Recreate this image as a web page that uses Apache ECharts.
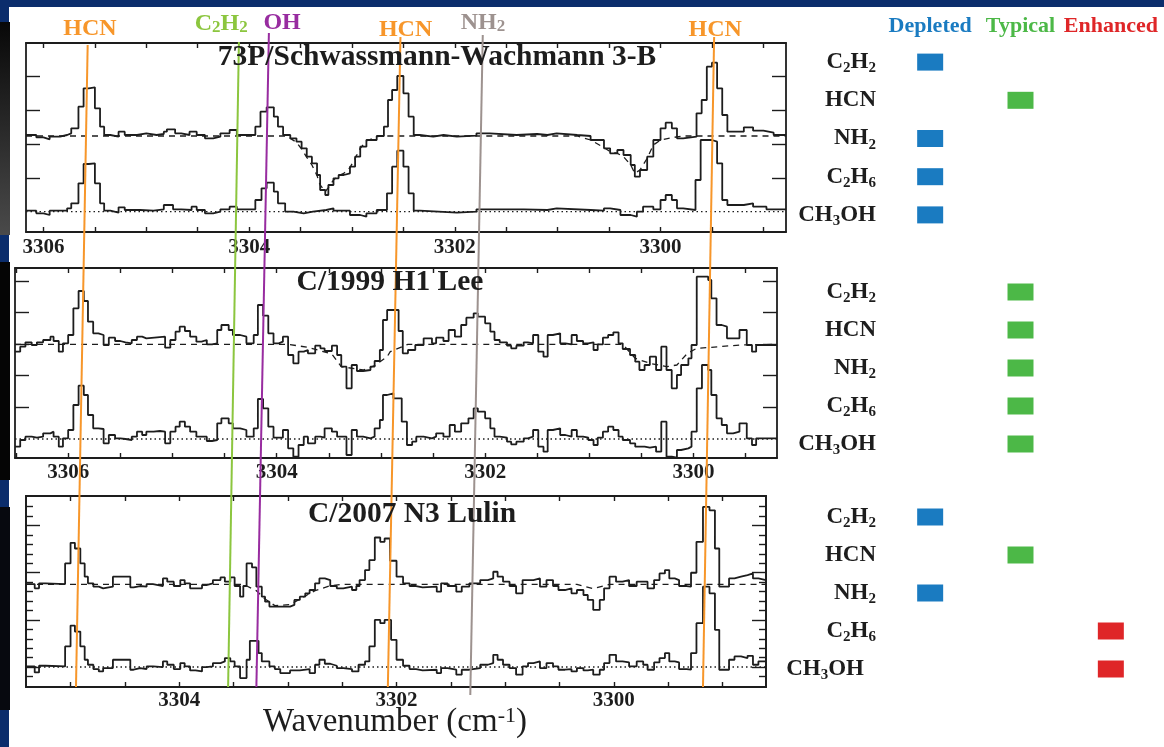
<!DOCTYPE html>
<html><head><meta charset="utf-8">
<script src="https://cdn.jsdelivr.net/npm/echarts@6/dist/echarts.min.js"></script>
<style>html,body{margin:0;padding:0;background:#fff}#c{width:1164px;height:747px}</style>
</head><body><div id="c"></div>
<script>
// ---------- DATA ----------
const panelTitles = ['73P/Schwassmann-Wachmann 3-B', 'C/1999 H1 Lee', 'C/2007 N3 Lulin'];
const xLabelsP1 = [3300, 3302, 3304, 3306];
const xLabelsP2 = [3300, 3302, 3304, 3306];
const xLabelsP3 = [3300, 3302, 3304];
const xTicksP1 = [3299, 3299.5, 3300, 3300.5, 3301, 3301.5, 3302, 3302.5, 3303, 3303.5, 3304, 3304.5, 3305, 3305.5, 3306];
const xTicksP2 = [3299.5, 3300, 3300.5, 3301, 3301.5, 3302, 3302.5, 3303, 3303.5, 3304, 3304.5, 3305, 3305.5, 3306, 3306.5];
const xTicksP3 = [3299, 3299.5, 3300, 3300.5, 3301, 3301.5, 3302, 3302.5, 3303, 3303.5, 3304, 3304.5, 3305];
const xRangeP1 = [3298.78, 3306.17];
const xRangeP2 = [3299.20, 3306.51];
const xRangeP3 = [3298.60, 3305.41];
const yRangeP1 = [-0.61, 5.06];
const yRangeP2 = [-0.57, 5.13];
const yRangeP3 = [-0.60, 5.15];
const yTicksP1 = [1.01, 2.03, 3.04, 4.06];
const yTicksP2 = [0.95, 1.90, 2.84, 3.80, 4.74];
const yTicksP3Major = [0, 1.42, 2.84, 4.26];
const yTicksP3Minor = [-0.284, 0.284, 0.568, 0.852, 1.136, 1.704, 1.988, 2.272, 2.556, 3.124, 3.408, 3.692, 3.976, 4.544, 4.828];

// observed spectra, fitted models, residuals: [wavenumber (cm-1), relative flux]
const p1Obs = [[3306.17,2.30],[3306.07,2.23],[3306.00,2.17],[3305.94,2.25],[3305.84,2.30],[3305.77,2.35],[3305.73,2.50],[3305.66,3.15],[3305.61,3.70],[3305.56,3.73],[3305.50,3.10],[3305.45,2.55],[3305.41,2.30],[3305.35,2.25],[3305.27,2.40],[3305.21,2.30],[3305.09,2.35],[3305.00,2.30],[3304.90,2.33],[3304.83,2.40],[3304.80,2.47],[3304.72,2.35],[3304.66,2.30],[3304.58,2.40],[3304.51,2.30],[3304.43,2.20],[3304.35,2.25],[3304.28,2.35],[3304.19,2.45],[3304.12,2.30],[3303.94,2.55],[3303.89,3.00],[3303.83,3.13],[3303.76,2.85],[3303.72,2.55],[3303.67,2.30],[3303.60,2.20],[3303.54,2.10],[3303.49,1.90],[3303.44,1.65],[3303.39,1.45],[3303.34,1.10],[3303.31,0.65],[3303.26,0.50],[3303.23,0.80],[3303.18,1.00],[3303.13,1.10],[3303.08,1.15],[3303.02,1.35],[3302.97,1.65],[3302.92,1.95],[3302.86,2.15],[3302.76,2.27],[3302.69,2.55],[3302.65,3.35],[3302.61,3.65],[3302.56,4.07],[3302.50,3.55],[3302.45,2.85],[3302.40,2.30],[3302.34,2.25],[3302.21,2.30],[3302.11,2.25],[3301.98,2.28],[3301.79,2.35],[3301.66,2.30],[3301.40,2.33],[3301.20,2.30],[3301.10,2.35],[3301.01,2.30],[3300.81,2.27],[3300.68,2.15],[3300.55,1.90],[3300.49,1.75],[3300.42,1.85],[3300.36,1.70],[3300.29,1.40],[3300.25,1.05],[3300.20,1.25],[3300.13,1.65],[3300.07,2.15],[3300.00,2.50],[3299.95,2.67],[3299.89,2.50],[3299.84,2.20],[3299.78,2.25],[3299.65,2.95],[3299.60,3.35],[3299.55,4.35],[3299.50,4.47],[3299.45,3.70],[3299.40,2.90],[3299.35,2.40],[3299.19,2.53],[3299.10,2.43],[3299.00,2.37],[3298.90,2.30],[3298.78,2.30]];
const p1Model = [[3306.17,2.27],[3303.65,2.27],[3303.60,2.20],[3303.54,2.08],[3303.49,1.88],[3303.44,1.63],[3303.39,1.40],[3303.34,1.08],[3303.31,0.80],[3303.26,0.60],[3303.23,0.72],[3303.18,0.95],[3303.13,1.08],[3303.08,1.15],[3303.02,1.32],[3302.97,1.60],[3302.92,1.90],[3302.86,2.12],[3302.76,2.25],[3302.69,2.27],[3300.81,2.27],[3300.68,2.15],[3300.55,1.92],[3300.49,1.80],[3300.42,1.75],[3300.36,1.65],[3300.29,1.40],[3300.25,1.15],[3300.20,1.25],[3300.13,1.60],[3300.07,2.00],[3300.00,2.15],[3299.89,2.22],[3299.78,2.27],[3298.78,2.27]];
const p1Res = [[3306.17,0.03],[3306.07,-0.05],[3306.00,-0.10],[3305.94,0.03],[3305.77,0.10],[3305.73,0.25],[3305.66,0.85],[3305.61,1.43],[3305.56,1.45],[3305.50,0.85],[3305.45,0.25],[3305.41,0.03],[3305.35,-0.03],[3305.27,0.13],[3305.21,0.05],[3305.06,0.03],[3304.93,0.07],[3304.83,0.20],[3304.74,0.07],[3304.66,0.05],[3304.56,0.15],[3304.51,0.05],[3304.43,-0.05],[3304.35,0.00],[3304.28,0.07],[3304.19,0.15],[3304.12,0.07],[3303.94,0.35],[3303.88,0.70],[3303.83,0.87],[3303.76,0.60],[3303.72,0.25],[3303.65,0.00],[3303.57,-0.05],[3303.47,0.00],[3303.38,0.05],[3303.25,0.10],[3303.18,0.03],[3303.02,-0.10],[3302.92,-0.15],[3302.86,-0.05],[3302.76,0.05],[3302.66,0.55],[3302.61,1.35],[3302.56,1.83],[3302.50,1.35],[3302.45,0.55],[3302.40,0.03],[3302.34,-0.03],[3301.98,0.00],[3301.79,0.07],[3301.33,0.05],[3301.10,0.10],[3301.01,0.05],[3300.68,0.03],[3300.55,0.10],[3300.49,0.05],[3300.39,-0.10],[3300.29,-0.15],[3300.23,0.00],[3300.17,0.15],[3300.07,0.07],[3300.00,0.35],[3299.95,0.50],[3299.89,0.35],[3299.84,0.10],[3299.78,0.05],[3299.66,0.95],[3299.61,2.15],[3299.50,2.10],[3299.45,1.45],[3299.40,0.35],[3299.35,0.20],[3299.19,0.25],[3299.10,0.15],[3298.97,0.07],[3298.78,0.07]];

const p2Obs = [[3306.51,2.62],[3306.46,2.77],[3306.41,2.90],[3306.35,2.82],[3306.30,2.90],[3306.24,2.97],[3306.17,3.07],[3306.14,2.94],[3306.09,2.62],[3306.05,2.87],[3306.00,3.12],[3305.95,3.92],[3305.90,4.44],[3305.85,4.14],[3305.81,3.52],[3305.76,3.17],[3305.71,3.12],[3305.66,2.82],[3305.61,3.04],[3305.55,2.94],[3305.50,2.90],[3305.45,2.87],[3305.39,2.97],[3305.34,3.07],[3305.29,3.02],[3305.25,3.07],[3305.07,2.74],[3305.02,2.97],[3304.97,3.22],[3304.93,3.37],[3304.88,3.24],[3304.83,3.07],[3304.77,2.92],[3304.72,2.97],[3304.67,2.84],[3304.62,2.87],[3304.57,3.27],[3304.53,3.42],[3304.46,3.27],[3304.42,3.12],[3304.35,3.07],[3304.29,2.87],[3304.22,3.12],[3304.18,4.02],[3304.13,3.70],[3304.08,3.17],[3304.03,2.87],[3303.98,2.92],[3303.94,3.07],[3303.89,2.52],[3303.84,2.27],[3303.79,2.62],[3303.74,2.67],[3303.70,2.57],[3303.63,2.80],[3303.58,2.72],[3303.54,2.64],[3303.47,2.80],[3303.42,2.52],[3303.38,2.17],[3303.33,1.52],[3303.28,2.22],[3303.23,2.04],[3303.17,2.07],[3303.10,2.17],[3303.06,2.34],[3303.01,2.67],[3302.98,3.57],[3302.94,3.87],[3302.83,3.24],[3302.79,2.57],[3302.74,2.67],[3302.67,2.82],[3302.59,3.02],[3302.51,2.87],[3302.47,3.04],[3302.40,2.94],[3302.35,3.27],[3302.29,3.07],[3302.23,3.42],[3302.18,3.64],[3302.11,3.77],[3302.07,3.67],[3302.00,3.47],[3301.95,3.22],[3301.91,2.97],[3301.86,2.90],[3301.79,2.80],[3301.75,2.72],[3301.70,2.80],[3301.63,2.90],[3301.59,2.87],[3301.54,3.12],[3301.49,2.62],[3301.44,2.47],[3301.40,3.12],[3301.35,3.17],[3301.28,2.87],[3301.23,2.84],[3301.17,3.12],[3301.12,2.94],[3301.06,2.87],[3301.01,2.90],[3300.96,2.67],[3300.92,2.84],[3300.87,3.04],[3300.82,3.12],[3300.77,3.20],[3300.72,2.87],[3300.68,2.70],[3300.61,2.52],[3300.56,2.32],[3300.52,2.07],[3300.47,2.22],[3300.42,2.47],[3300.36,2.07],[3300.31,2.77],[3300.26,2.07],[3300.21,1.52],[3300.16,1.92],[3300.12,2.22],[3300.05,2.42],[3300.02,2.82],[3299.97,4.87],[3299.86,4.77],[3299.83,4.22],[3299.78,3.42],[3299.73,3.37],[3299.68,3.02],[3299.56,3.27],[3299.49,2.82],[3299.44,2.62],[3299.40,2.82],[3299.20,2.82]];
const p2Model = [[3306.51,2.84],[3303.89,2.84],[3303.70,2.75],[3303.47,2.55],[3303.38,2.17],[3303.17,2.07],[3303.06,2.20],[3302.94,2.47],[3302.91,2.62],[3302.74,2.84],[3300.68,2.84],[3300.56,2.42],[3300.42,2.27],[3300.26,2.17],[3300.16,2.22],[3300.06,2.57],[3299.97,2.72],[3299.75,2.77],[3299.56,2.82],[3299.20,2.84]];
const p2Res = [[3306.51,-0.23],[3306.46,-0.03],[3306.41,0.07],[3306.35,0.04],[3306.30,0.07],[3306.24,0.17],[3306.17,0.22],[3306.14,0.07],[3306.09,-0.23],[3306.05,0.02],[3306.00,0.27],[3305.95,1.02],[3305.90,1.60],[3305.85,1.32],[3305.81,0.72],[3305.76,0.32],[3305.71,0.30],[3305.66,-0.13],[3305.61,0.12],[3305.55,0.02],[3305.50,0.00],[3305.45,-0.03],[3305.39,0.07],[3305.34,0.22],[3305.29,0.12],[3305.25,0.22],[3305.18,0.24],[3305.12,0.22],[3305.07,-0.13],[3305.02,0.22],[3304.97,0.37],[3304.93,0.52],[3304.88,0.37],[3304.83,0.22],[3304.77,0.07],[3304.67,-0.06],[3304.62,-0.03],[3304.57,0.47],[3304.53,0.62],[3304.46,0.47],[3304.42,0.32],[3304.35,0.27],[3304.29,0.07],[3304.22,0.32],[3304.18,1.20],[3304.13,0.92],[3304.08,0.37],[3304.03,0.04],[3303.94,0.27],[3303.89,-0.28],[3303.84,-0.53],[3303.79,-0.18],[3303.74,0.07],[3303.70,-0.13],[3303.63,0.07],[3303.58,0.04],[3303.54,0.32],[3303.47,0.22],[3303.42,0.07],[3303.33,-0.48],[3303.28,0.27],[3303.23,0.07],[3303.17,0.02],[3303.10,0.07],[3303.06,0.32],[3303.01,0.57],[3302.98,1.32],[3302.94,1.37],[3302.88,1.22],[3302.80,0.52],[3302.75,-0.18],[3302.70,-0.08],[3302.66,0.07],[3302.59,0.02],[3302.51,0.07],[3302.47,0.17],[3302.40,0.07],[3302.34,0.42],[3302.29,0.22],[3302.23,0.47],[3302.16,0.62],[3302.11,0.92],[3302.07,0.82],[3302.00,0.62],[3301.95,0.32],[3301.91,0.07],[3301.86,0.04],[3301.79,-0.08],[3301.75,-0.16],[3301.70,-0.08],[3301.63,0.02],[3301.59,0.07],[3301.54,0.27],[3301.49,-0.23],[3301.44,-0.38],[3301.40,0.27],[3301.35,0.32],[3301.28,0.12],[3301.23,0.07],[3301.17,0.27],[3301.12,0.07],[3301.06,0.04],[3301.01,-0.03],[3300.96,-0.18],[3300.92,0.04],[3300.87,0.22],[3300.82,0.37],[3300.77,0.27],[3300.72,0.07],[3300.68,-0.03],[3300.61,-0.13],[3300.56,-0.23],[3300.47,-0.26],[3300.42,-0.23],[3300.36,-0.38],[3300.31,0.52],[3300.26,-0.53],[3300.21,-0.56],[3300.16,-0.33],[3300.12,-0.28],[3300.05,-0.23],[3300.02,0.22],[3299.97,1.52],[3299.92,2.22],[3299.86,2.07],[3299.83,1.32],[3299.78,0.62],[3299.73,0.42],[3299.68,0.17],[3299.62,0.22],[3299.56,0.47],[3299.49,0.02],[3299.44,-0.18],[3299.40,0.02],[3299.20,0.02]];

const p3Obs = [[3305.41,2.50],[3305.33,2.37],[3305.29,2.52],[3305.23,2.50],[3305.05,3.12],[3305.00,3.74],[3304.96,3.57],[3304.91,3.12],[3304.87,2.72],[3304.84,2.52],[3304.79,2.42],[3304.74,2.37],[3304.70,2.42],[3304.61,2.72],[3304.45,2.40],[3304.42,2.44],[3304.36,2.42],[3304.30,2.50],[3304.24,2.44],[3304.15,2.67],[3304.11,2.57],[3304.05,2.44],[3303.99,2.62],[3303.95,2.52],[3303.90,2.37],[3303.79,2.47],[3303.75,2.52],[3303.69,2.62],[3303.62,2.70],[3303.58,2.57],[3303.53,2.70],[3303.49,2.44],[3303.44,2.12],[3303.41,2.44],[3303.38,3.12],[3303.33,3.00],[3303.29,2.42],[3303.24,2.12],[3303.21,1.97],[3303.17,1.82],[3302.98,1.87],[3302.94,2.02],[3302.89,2.12],[3302.84,2.22],[3302.80,2.32],[3302.75,2.52],[3302.71,2.67],[3302.66,2.62],[3302.61,2.44],[3302.55,2.37],[3302.49,2.42],[3302.41,2.32],[3302.37,2.44],[3302.34,2.62],[3302.29,2.92],[3302.25,3.22],[3302.20,3.90],[3302.15,3.77],[3302.11,3.87],[3302.06,3.20],[3302.00,2.72],[3301.94,2.52],[3301.88,2.44],[3301.82,2.40],[3301.76,2.42],[3301.63,2.27],[3301.59,2.52],[3301.53,2.44],[3301.45,2.27],[3301.40,2.42],[3301.33,2.52],[3301.23,2.62],[3301.16,2.67],[3301.11,2.87],[3301.07,2.72],[3301.02,2.57],[3300.96,2.44],[3300.90,2.22],[3300.84,2.62],[3300.74,2.67],[3300.68,2.42],[3300.62,2.62],[3300.56,2.44],[3300.51,2.32],[3300.45,2.37],[3300.39,2.22],[3300.34,2.32],[3300.28,2.17],[3300.24,2.02],[3300.19,1.72],[3300.13,2.02],[3300.09,2.37],[3300.04,2.72],[3299.98,2.57],[3299.92,2.62],[3299.86,2.44],[3299.79,2.57],[3299.69,2.37],[3299.63,2.62],[3299.58,2.82],[3299.53,2.92],[3299.49,2.67],[3299.44,2.62],[3299.40,2.44],[3299.33,2.42],[3299.29,2.84],[3299.24,3.77],[3299.18,4.82],[3299.12,4.72],[3299.07,3.57],[3299.03,2.42],[3298.94,2.67],[3298.89,2.72],[3298.83,2.77],[3298.77,2.82],[3298.72,2.67],[3298.67,2.62],[3298.60,2.62]];
const p3Model = [[3305.41,2.49],[3303.41,2.49],[3303.29,2.30],[3303.21,2.05],[3303.12,1.85],[3302.98,1.88],[3302.89,2.05],[3302.75,2.30],[3302.61,2.45],[3302.49,2.49],[3300.34,2.49],[3300.19,2.36],[3300.04,2.49],[3298.60,2.49]];
const p3Res = [[3305.41,0.02],[3305.33,-0.16],[3305.29,0.04],[3305.23,0.02],[3305.05,0.62],[3305.00,1.25],[3304.96,1.07],[3304.91,0.62],[3304.87,0.22],[3304.84,0.07],[3304.79,-0.06],[3304.74,-0.13],[3304.70,-0.03],[3304.61,0.22],[3304.45,-0.08],[3304.42,-0.03],[3304.36,-0.06],[3304.30,0.02],[3304.24,0.00],[3304.15,0.17],[3304.11,0.07],[3304.05,-0.06],[3303.99,0.12],[3303.95,0.02],[3303.90,-0.10],[3303.85,-0.13],[3303.79,0.00],[3303.75,0.02],[3303.69,0.12],[3303.62,0.17],[3303.58,0.27],[3303.53,0.17],[3303.49,0.02],[3303.44,-0.33],[3303.38,0.22],[3303.35,0.79],[3303.27,0.42],[3303.24,0.17],[3303.17,0.02],[3303.12,-0.06],[3303.07,-0.18],[3302.98,-0.10],[3302.89,-0.06],[3302.80,-0.18],[3302.75,0.07],[3302.71,0.22],[3302.66,0.10],[3302.61,0.04],[3302.55,-0.03],[3302.49,-0.06],[3302.41,-0.13],[3302.35,0.07],[3302.29,0.17],[3302.25,0.62],[3302.20,1.42],[3302.15,1.32],[3302.11,1.42],[3302.05,0.82],[3302.00,0.22],[3301.94,0.04],[3301.88,-0.06],[3301.82,-0.10],[3301.76,-0.08],[3301.63,-0.18],[3301.59,-0.03],[3301.53,-0.08],[3301.45,-0.23],[3301.40,-0.08],[3301.33,-0.03],[3301.23,0.07],[3301.16,0.12],[3301.11,0.37],[3301.07,0.22],[3301.02,0.07],[3300.96,-0.03],[3300.90,-0.23],[3300.84,0.02],[3300.79,0.12],[3300.74,0.17],[3300.68,-0.03],[3300.62,0.12],[3300.56,0.02],[3300.51,-0.08],[3300.45,-0.06],[3300.39,-0.13],[3300.34,-0.03],[3300.28,-0.10],[3300.24,-0.08],[3300.19,-0.23],[3300.13,-0.08],[3300.09,0.12],[3300.04,0.37],[3299.98,0.17],[3299.92,0.14],[3299.86,0.02],[3299.79,0.17],[3299.73,0.07],[3299.69,-0.08],[3299.63,0.14],[3299.58,0.27],[3299.53,0.42],[3299.49,0.17],[3299.44,0.14],[3299.40,-0.06],[3299.33,-0.08],[3299.29,0.42],[3299.24,1.32],[3299.18,2.42],[3299.12,2.22],[3299.07,1.12],[3299.03,-0.08],[3298.94,0.22],[3298.89,0.32],[3298.83,0.27],[3298.77,0.34],[3298.72,0.07],[3298.67,0.17],[3298.60,0.17]];

// line identifications (slanted across the three panels)
const featureNames = ['HCN', 'C2H2', 'OH', 'HCN', 'NH2', 'HCN'];
const featureWnTopP1 = [3305.57, 3304.10, 3303.81, 3302.53, 3301.73, 3299.48];
const featureWnBottomP3 = [3304.95, 3303.55, 3303.29, 3302.08, 3301.32, 3299.18];

// abundance classes
const statuses = ['Depleted', 'Typical', 'Enhanced'];
const molecules = ['C2H2', 'HCN', 'NH2', 'C2H6', 'CH3OH'];
const statusSW3B = ['Depleted', 'Typical', 'Depleted', 'Depleted', 'Depleted'];
const statusLee = ['Typical', 'Typical', 'Typical', 'Typical', 'Typical'];
const statusLulin = ['Depleted', 'Typical', 'Depleted', 'Enhanced', 'Enhanced'];

// ---------- STYLE ----------
const FONT = 'Liberation Serif';
const INK = '#1d1d1d';
const NAVY = '#0b2d6c';
const statusColor = {Depleted: '#1a7bc1', Typical: '#4cb847', Enhanced: '#df2628'};
const featureColor = {HCN: '#f7962a', C2H2: '#8cc63f', OH: '#982ca0', NH2: '#9d928f'};
const featureStyle = [
  {yStart: 45, yEnd: 687, dx: 2, ly: 29},
  {yStart: 42, yEnd: 687, dx: -18, ly: 24},
  {yStart: 33, yEnd: 687, dx: 13, ly: 23},
  {yStart: 37, yEnd: 687, dx: 5, ly: 30},
  {yStart: 35, yEnd: 695, dx: 0, ly: 23},
  {yStart: 37, yEnd: 687, dx: 1, ly: 30}
];

const panelGrids = [
  {left: 26, top: 43, width: 760, height: 189},
  {left: 15, top: 268, width: 762, height: 190},
  {left: 26, top: 496, width: 740, height: 191}
];
const legendGrids = [
  {left: 885, top: 43, width: 271, height: 191},
  {left: 885, top: 273, width: 271, height: 190},
  {left: 885, top: 498, width: 271, height: 190}
];

function xPair(gi, range, ticks, labels, margin) {
  const base = {
    type: 'value', gridIndex: gi, min: range[0], max: range[1], inverse: true,
    splitLine: {show: false},
    axisLine: {show: true, onZero: false, lineStyle: {color: INK, width: 1.8}},
    axisTick: {show: true, inside: true, length: 5, customValues: ticks, lineStyle: {color: INK, width: 1.4}}
  };
  return [
    Object.assign({}, base, {position: 'bottom', axisLabel: {show: true, customValues: labels, margin: margin,
      formatter: v => String(v), color: INK, fontFamily: FONT, fontWeight: 'bold', fontSize: 21}}),
    Object.assign({}, base, {position: 'top', axisLabel: {show: false}})
  ];
}
function yAx(gi, range, pos, ticks, len) {
  return {
    type: 'value', gridIndex: gi, min: range[0], max: range[1], position: pos,
    splitLine: {show: false}, axisLabel: {show: false},
    axisLine: {show: true, onZero: false, lineStyle: {color: INK, width: 1.8}},
    axisTick: {show: true, inside: true, length: len, customValues: ticks, lineStyle: {color: INK, width: 1.4}}
  };
}
function molLabel(v) {
  return v.replace(/(\D+)/g, '{m|$1}').replace(/(\d)/g, '{s|$1}');
}
const molRich = {
  m: {fontFamily: FONT, fontWeight: 'bold', fontSize: 23, color: INK, lineHeight: 28},
  s: {fontFamily: FONT, fontWeight: 'bold', fontSize: 15, color: INK, verticalAlign: 'bottom'},
  pad: {width: 12}
};

const xAxes = [].concat(
  xPair(0, xRangeP1, xTicksP1, xLabelsP1, 5),
  xPair(1, xRangeP2, xTicksP2, xLabelsP2, 4),
  xPair(2, xRangeP3, xTicksP3, xLabelsP3, 3)
);
legendGrids.forEach((g, k) => {
  xAxes.push({
    type: 'category', gridIndex: 3 + k, data: statuses, position: 'top',
    axisLine: {show: false}, axisTick: {show: false}, splitLine: {show: false},
    axisLabel: {show: k === 0, margin: 6, interval: 0, fontFamily: FONT, fontWeight: 'bold', fontSize: 22,
      color: v => statusColor[v]}
  });
});
const yAxes = [
  yAx(0, yRangeP1, 'left', yTicksP1, 14), yAx(0, yRangeP1, 'right', yTicksP1, 14),
  yAx(1, yRangeP2, 'left', yTicksP2, 14), yAx(1, yRangeP2, 'right', yTicksP2, 14),
  yAx(2, yRangeP3, 'left', yTicksP3Major, 14), yAx(2, yRangeP3, 'left', yTicksP3Minor, 7),
  yAx(2, yRangeP3, 'right', yTicksP3Major, 14), yAx(2, yRangeP3, 'right', yTicksP3Minor, 7)
];
legendGrids.forEach((g, k) => {
  yAxes.push({
    type: 'category', gridIndex: 3 + k, data: molecules, inverse: true,
    axisLine: {show: false}, axisTick: {show: false}, splitLine: {show: false},
    axisLabel: {margin: 9, interval: 0, formatter: v => molLabel(v) + (k === 2 && v === 'CH3OH' ? '{pad|}' : ''), rich: molRich}
  });
});

function stepSeries(xi, yi, data) {
  return {type: 'line', xAxisIndex: xi, yAxisIndex: yi, data: data, step: 'end', symbol: 'none',
    lineStyle: {color: INK, width: 1.8}, z: 3, silent: true};
}
function modelSeries(xi, yi, data) {
  return {type: 'line', xAxisIndex: xi, yAxisIndex: yi, data: data, symbol: 'none',
    lineStyle: {color: INK, width: 1.3, type: [6, 5]}, z: 2, silent: true};
}
function zeroSeries(xi, yi, range) {
  return {type: 'line', xAxisIndex: xi, yAxisIndex: yi, data: [[range[1], 0], [range[0], 0]], symbol: 'none',
    lineStyle: {color: INK, width: 1.4, type: [1.5, 3]}, z: 2, silent: true};
}
const series = [
  modelSeries(0, 0, p1Model), zeroSeries(0, 0, xRangeP1), stepSeries(0, 0, p1Obs), stepSeries(0, 0, p1Res),
  modelSeries(2, 2, p2Model), zeroSeries(2, 2, xRangeP2), stepSeries(2, 2, p2Obs), stepSeries(2, 2, p2Res),
  modelSeries(4, 4, p3Model), zeroSeries(4, 4, xRangeP3), stepSeries(4, 4, p3Obs), stepSeries(4, 4, p3Res)
];
[statusSW3B, statusLee, statusLulin].forEach((st, k) => {
  series.push({
    type: 'scatter', xAxisIndex: 6 + k, yAxisIndex: 8 + k, symbol: 'rect', symbolSize: [26, 17],
    data: molecules.map((m, i) => [st[i], m]),
    itemStyle: {color: p => statusColor[p.value[0]], opacity: 1}, silent: true
  });
});

const chart = echarts.init(document.getElementById('c'));
chart.setOption({
  animation: false,
  backgroundColor: '#ffffff',
  grid: panelGrids.concat(legendGrids),
  xAxis: xAxes,
  yAxis: yAxes,
  series: series
});

// ---------- annotations ----------
const gfx = [
  {type: 'rect', shape: {x: 0, y: 0, width: 1164, height: 7}, style: {fill: NAVY}, silent: true},
  {type: 'rect', shape: {x: 0, y: 0, width: 9, height: 747}, style: {fill: NAVY}, silent: true},
  {type: 'rect', shape: {x: 0, y: 22, width: 10, height: 213}, silent: true,
    style: {fill: new echarts.graphic.LinearGradient(0, 0, 0, 1, [{offset: 0, color: '#080808'}, {offset: 1, color: '#4a4a4a'}])}},
  {type: 'rect', shape: {x: 0, y: 262, width: 10, height: 218}, style: {fill: '#050505'}, silent: true},
  {type: 'rect', shape: {x: 0, y: 507, width: 10, height: 203}, style: {fill: '#07090f'}, silent: true}
];
const titlePos = [[437, 57], [390, 282], [412, 514]];
panelTitles.forEach((t, i) => {
  gfx.push({type: 'text', x: titlePos[i][0], y: titlePos[i][1], z: 60, silent: true,
    style: {text: t, fill: INK, fontFamily: FONT, fontWeight: 'bold', fontSize: 29.5,
      align: 'center', verticalAlign: 'middle', textAlign: 'center', textVerticalAlign: 'middle'}});
});
gfx.push({type: 'text', x: 395, y: 722, z: 60, silent: true,
  style: {text: 'Wavenumber (cm{sup|-1})', fill: INK, fontFamily: FONT, fontSize: 33,
    align: 'center', verticalAlign: 'middle', textAlign: 'center', textVerticalAlign: 'middle',
    rich: {sup: {fontFamily: FONT, fontSize: 22, fill: INK, verticalAlign: 'top'}}}});

const yTop = chart.convertToPixel({yAxisIndex: 0}, yRangeP1[1]);
const yBot = chart.convertToPixel({yAxisIndex: 4}, yRangeP3[0]);
featureNames.forEach((name, i) => {
  const xt = chart.convertToPixel({xAxisIndex: 0}, featureWnTopP1[i]);
  const xb = chart.convertToPixel({xAxisIndex: 4}, featureWnBottomP3[i]);
  const fs = featureStyle[i];
  const slope = (xb - xt) / (yBot - yTop);
  const x1 = xt + slope * (fs.yStart - yTop);
  const x2 = xt + slope * (fs.yEnd - yTop);
  const col = featureColor[name];
  gfx.push({type: 'line', z: 50, silent: true, shape: {x1: x1, y1: fs.yStart, x2: x2, y2: fs.yEnd},
    style: {stroke: col, lineWidth: 2}});
  gfx.push({type: 'text', z: 55, silent: true, x: xt + slope * (fs.ly - yTop) + fs.dx, y: fs.ly,
    style: {text: name.replace(/(\d)/g, '{s|$1}'), fill: col, fontFamily: FONT, fontWeight: 'bold', fontSize: 24,
      align: 'center', verticalAlign: 'middle', textAlign: 'center', textVerticalAlign: 'middle',
      rich: {s: {fontFamily: FONT, fontWeight: 'bold', fontSize: 17, fill: col, verticalAlign: 'bottom'}}}});
});
chart.setOption({graphic: gfx});
</script>
</body></html>
